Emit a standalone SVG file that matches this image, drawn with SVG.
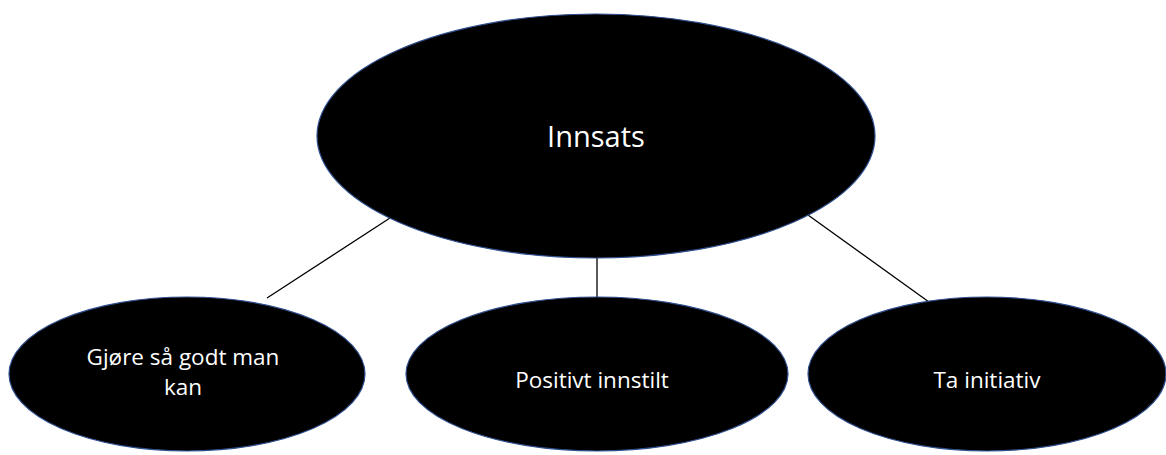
<svg xmlns="http://www.w3.org/2000/svg" width="1166" height="455" viewBox="0 0 1166 455">
<style>
.n{fill:#000;stroke:#2f4f8f;stroke-width:1.2}
.t{fill:#fff;font-family:"Open Sans","Liberation Sans",sans-serif;text-anchor:middle}
.c{stroke:#000;stroke-width:1.3;fill:none}
</style>
<rect width="1166" height="455" fill="#fff"/>
<g id="connectors">
<line class="c" x1="390" y1="218" x2="267" y2="298"/>
<line class="c" x1="597" y1="257" x2="597" y2="298"/>
<line class="c" x1="808" y1="215" x2="929" y2="302"/>
</g>
<g id="innsats">
<ellipse class="n" cx="596" cy="136" rx="279" ry="122"/>
<text class="t" x="596" y="147" font-size="29">Innsats</text>
</g>
<g id="gjore">
<ellipse class="n" cx="187" cy="374" rx="178" ry="77"/>
<text class="t" x="183" y="365" font-size="22.5">Gjøre så godt man</text>
<text class="t" x="183" y="395" font-size="22.5">kan</text>
</g>
<g id="positivt">
<ellipse class="n" cx="597" cy="374" rx="191" ry="77"/>
<text class="t" x="592" y="388" font-size="22.5">Positivt innstilt</text>
</g>
<g id="initiativ">
<ellipse class="n" cx="987" cy="374" rx="179" ry="77"/>
<text class="t" x="987" y="388" font-size="22.5">Ta initiativ</text>
</g>
</svg>
